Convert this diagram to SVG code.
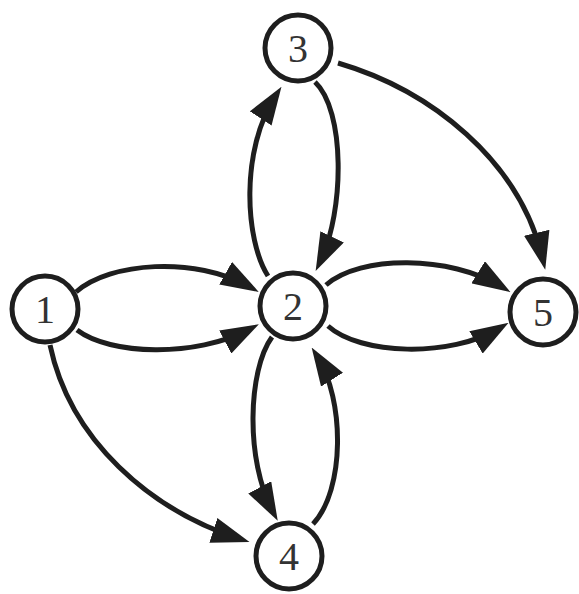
<svg xmlns="http://www.w3.org/2000/svg" width="579" height="594" viewBox="0 0 579 594">
<defs>
<marker id="ah" viewBox="0 0 38 26" refX="28" refY="13" markerWidth="38" markerHeight="26" markerUnits="userSpaceOnUse" orient="auto">
<path d="M0,0 L38,13 L0,26 z" fill="#1e1e1e"/>
</marker>
</defs>
<style>
.node circle{fill:#fff;stroke:#1e1e1e;stroke-width:5}
.node text{font-family:"Liberation Serif","Times New Roman",serif;font-size:40px;fill:#333;text-anchor:middle}
.edge{fill:none;stroke:#1e1e1e;stroke-width:5;marker-end:url(#ah)}
</style>
<rect width="579" height="594" fill="#fff"/>
<g id="connectors">
<path class="edge" d="M76,292 C110,262 195,256 250,287"/>
<path class="edge" d="M77,330 C110,355 195,358 250,329"/>
<path class="edge" d="M50,345 C70,440 150,510 240,539"/>
<path class="edge" d="M268,276 C245,240 240,150 276,95"/>
<path class="edge" d="M315,82 C345,110 345,210 320,262"/>
<path class="edge" d="M338,63 C430,90 520,160 543,260"/>
<path class="edge" d="M326,285 C360,255 450,255 502,287"/>
<path class="edge" d="M328,326 C360,355 450,358 500,328"/>
<path class="edge" d="M272,337 C248,370 245,460 273,512"/>
<path class="edge" d="M313,524 C345,490 345,400 317,356"/>
</g>
<g id="n1" class="node"><circle cx="45" cy="309" r="33"/><text x="45" y="323">1</text></g>
<g id="n2" class="node"><circle cx="293" cy="306" r="33"/><text x="293" y="320">2</text></g>
<g id="n3" class="node"><circle cx="298" cy="48" r="33"/><text x="298" y="62">3</text></g>
<g id="n4" class="node"><circle cx="289" cy="556" r="33"/><text x="289" y="570">4</text></g>
<g id="n5" class="node"><circle cx="543" cy="312" r="33"/><text x="543" y="326">5</text></g>
</svg>
